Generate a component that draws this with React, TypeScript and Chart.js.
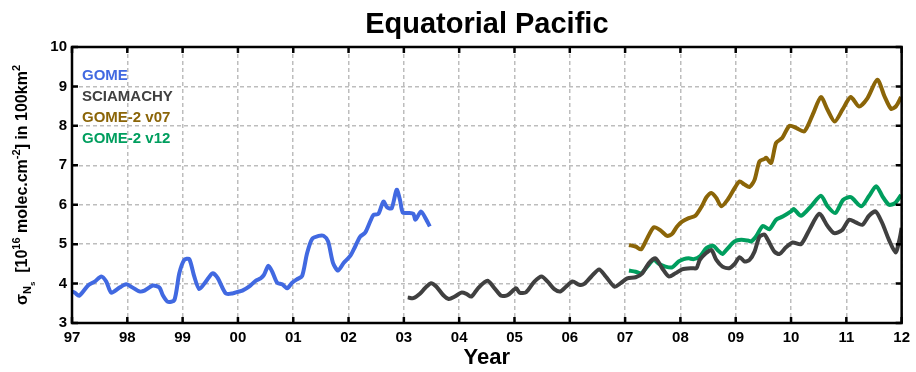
import React, { useEffect, useRef } from "react";
import { Chart, registerables } from "chart.js";

Chart.register(...registerables);

const yearTickLabels = ["97", "98", "99", "00", "01", "02", "03", "04", "05", "06", "07", "08", "09", "10", "11", "12"];
const firstYear = 1997;
const lastYear = 2012;
const yMin = 3;
const yMax = 10;

// years expressed as offset from 1997
const gomeT = [0.0, 0.05, 0.13, 0.29, 0.41, 0.53, 0.62, 0.71, 0.86, 0.98, 1.07, 1.22, 1.31, 1.46, 1.58, 1.64, 1.73, 1.85, 1.94, 2.03, 2.12, 2.21, 2.30, 2.42, 2.54, 2.63, 2.78, 2.90, 3.02, 3.08, 3.2, 3.32, 3.41, 3.47, 3.55, 3.62, 3.71, 3.8, 3.89, 3.98, 4.07, 4.16, 4.25, 4.34, 4.46, 4.55, 4.63, 4.72, 4.81, 4.91, 5.03, 5.12, 5.21, 5.3, 5.39, 5.45, 5.54, 5.63, 5.70, 5.78, 5.87, 5.93, 5.98, 6.08, 6.17, 6.21, 6.31, 6.39, 6.47];
const gomeV = [3.8, 3.77, 3.69, 3.95, 4.05, 4.18, 4.05, 3.77, 3.9, 3.98, 3.92, 3.8, 3.82, 3.95, 3.9, 3.71, 3.54, 3.58, 4.26, 4.6, 4.62, 4.18, 3.86, 4.05, 4.26, 4.15, 3.75, 3.75, 3.8, 3.82, 3.92, 4.07, 4.13, 4.22, 4.45, 4.3, 4.02, 3.98, 3.88, 4.02, 4.11, 4.19, 4.77, 5.13, 5.21, 5.21, 5.07, 4.52, 4.33, 4.52, 4.7, 4.94, 5.19, 5.29, 5.57, 5.74, 5.77, 6.08, 5.93, 5.91, 6.38, 6.12, 5.8, 5.79, 5.77, 5.62, 5.83, 5.66, 5.45];

const sciaT = [6.07, 6.17, 6.29, 6.38, 6.49, 6.59, 6.71, 6.81, 6.92, 7.04, 7.13, 7.22, 7.34, 7.51, 7.64, 7.76, 7.88, 8.03, 8.09, 8.21, 8.36, 8.49, 8.60, 8.72, 8.83, 8.93, 9.05, 9.17, 9.26, 9.39, 9.53, 9.65, 9.81, 9.92, 10.04, 10.19, 10.31, 10.43, 10.55, 10.67, 10.79, 10.91, 11.03, 11.21, 11.29, 11.35, 11.46, 11.56, 11.65, 11.76, 11.88, 11.98, 12.07, 12.16, 12.25, 12.34, 12.43, 12.52, 12.58, 12.70, 12.79, 12.91, 13.03, 13.18, 13.33, 13.51, 13.66, 13.78, 13.92, 14.05, 14.17, 14.29, 14.41, 14.53, 14.65, 14.77, 14.89, 14.96, 15.0];
const sciaV = [3.65, 3.63, 3.74, 3.88, 4.01, 3.92, 3.71, 3.61, 3.67, 3.77, 3.74, 3.67, 3.88, 4.07, 3.88, 3.69, 3.71, 3.88, 3.77, 3.78, 4.05, 4.18, 4.05, 3.86, 3.8, 3.92, 4.05, 3.97, 3.99, 4.18, 4.36, 4.18, 3.92, 4.01, 4.13, 4.16, 4.26, 4.52, 4.64, 4.39, 4.18, 4.26, 4.36, 4.39, 4.39, 4.6, 4.77, 4.85, 4.6, 4.43, 4.39, 4.5, 4.67, 4.56, 4.6, 4.81, 5.19, 5.24, 5.11, 4.81, 4.75, 4.92, 5.04, 5.0, 5.36, 5.77, 5.46, 5.28, 5.35, 5.62, 5.55, 5.49, 5.72, 5.83, 5.53, 5.11, 4.79, 5.11, 5.41];

const v07T = [10.07, 10.19, 10.29, 10.40, 10.52, 10.64, 10.76, 10.85, 10.94, 11.03, 11.15, 11.27, 11.39, 11.47, 11.56, 11.65, 11.74, 11.86, 11.98, 12.07, 12.16, 12.25, 12.34, 12.43, 12.52, 12.55, 12.64, 12.73, 12.84, 12.97, 13.09, 13.24, 13.39, 13.54, 13.66, 13.79, 13.93, 14.08, 14.23, 14.38, 14.56, 14.69, 14.81, 14.90, 14.99];
const v07V = [4.98, 4.94, 4.87, 5.15, 5.43, 5.35, 5.21, 5.26, 5.45, 5.57, 5.66, 5.72, 5.97, 6.19, 6.3, 6.17, 5.96, 6.14, 6.42, 6.59, 6.51, 6.45, 6.63, 7.1, 7.16, 7.19, 7.06, 7.57, 7.69, 8.0, 7.95, 7.86, 8.28, 8.73, 8.41, 8.11, 8.41, 8.73, 8.49, 8.7, 9.17, 8.75, 8.43, 8.5, 8.73];

const v12T = [10.07, 10.19, 10.29, 10.40, 10.52, 10.61, 10.73, 10.85, 10.97, 11.06, 11.15, 11.24, 11.36, 11.47, 11.59, 11.68, 11.76, 11.86, 11.98, 12.10, 12.22, 12.28, 12.37, 12.49, 12.61, 12.73, 12.85, 13.0, 13.05, 13.18, 13.36, 13.54, 13.66, 13.80, 13.94, 14.08, 14.27, 14.41, 14.54, 14.65, 14.77, 14.88, 14.99];
const v12V = [4.33, 4.3, 4.26, 4.43, 4.6, 4.5, 4.43, 4.41, 4.56, 4.62, 4.64, 4.62, 4.7, 4.9, 4.96, 4.84, 4.75, 4.9, 5.07, 5.11, 5.09, 5.07, 5.2, 5.46, 5.38, 5.62, 5.7, 5.83, 5.89, 5.72, 5.96, 6.23, 5.96, 5.79, 6.12, 6.19, 5.96, 6.22, 6.47, 6.22, 6.0, 6.04, 6.25];

const seriesNames = ["GOME", "SCIAMACHY", "GOME-2 v07", "GOME-2 v12"];
const seriesColors = ["#4169E1", "#404040", "#8B6508", "#009E5E"];

const titleText = "Equatorial Pacific";
const xTitle = "Year";

const FONT = '"Liberation Sans", Arial, sans-serif';

function pts(t: number[], v: number[]) {
  return t.map((tt, i) => ({ x: firstYear + tt, y: v[i] }));
}

const decorPlugin = {
  id: "decor",
  afterDraw(chart: any) {
    const { ctx, chartArea } = chart;
    const xs = chart.scales.x;
    const ys = chart.scales.y;
    ctx.save();
    // frame
    ctx.strokeStyle = "#000";
    ctx.lineWidth = 2.5;
    ctx.strokeRect(chartArea.left, chartArea.top, chartArea.right - chartArea.left, chartArea.bottom - chartArea.top);
    // inward ticks
    const tl = 6;
    ctx.beginPath();
    for (let yr = firstYear; yr <= lastYear; yr++) {
      const px = xs.getPixelForValue(yr);
      ctx.moveTo(px, chartArea.bottom);
      ctx.lineTo(px, chartArea.bottom - tl);
      ctx.moveTo(px, chartArea.top);
      ctx.lineTo(px, chartArea.top + tl);
    }
    for (let v = yMin; v <= yMax; v++) {
      const py = ys.getPixelForValue(v);
      ctx.moveTo(chartArea.left, py);
      ctx.lineTo(chartArea.left + tl, py);
      ctx.moveTo(chartArea.right, py);
      ctx.lineTo(chartArea.right - tl, py);
    }
    ctx.stroke();

    // title
    ctx.fillStyle = "#000";
    ctx.font = `bold 29px ${FONT}`;
    ctx.textAlign = "center";
    ctx.textBaseline = "alphabetic";
    ctx.fillText(titleText, (chartArea.left + chartArea.right) / 2, 33);

    // legend (text only)
    ctx.font = `bold 15px ${FONT}`;
    ctx.textAlign = "left";
    ctx.textBaseline = "middle";
    chart.data.datasets.forEach((ds: any, i: number) => {
      ctx.fillStyle = ds.borderColor;
      ctx.fillText(ds.label, chartArea.left + 10, chartArea.top + 29 + i * 21);
    });

    // y-axis title with sub/superscripts
    ctx.translate(22, (chartArea.top + chartArea.bottom) / 2);
    ctx.rotate(-Math.PI / 2);
    ctx.fillStyle = "#000";
    ctx.textBaseline = "alphabetic";
    const big = `bold 16px ${FONT}`;
    const small = `bold 11px ${FONT}`;
    const tiny = `bold 8px ${FONT}`;
    const parts: [string, string, number][] = [
      ["σ", big, 0],
      ["N", small, 4],
      ["s", tiny, 8],
      ["  [10", big, 0],
      ["16", small, -7],
      [" molec.cm", big, 0],
      ["-2", small, -7],
      ["] in 100km", big, 0],
      ["2", small, -7],
    ];
    let total = 0;
    parts.forEach(([s, f]) => {
      ctx.font = f;
      total += ctx.measureText(s).width;
    });
    let x = -total / 2;
    const baseY = 5;
    parts.forEach(([s, f, dy]) => {
      ctx.font = f;
      ctx.textAlign = "left";
      ctx.fillText(s, x, baseY + dy);
      x += ctx.measureText(s).width;
    });
    ctx.restore();
  },
};

export default function App() {
  const ref = useRef<HTMLCanvasElement | null>(null);
  useEffect(() => {
    if (!ref.current) return;
    const series = [pts(gomeT, gomeV), pts(sciaT, sciaV), pts(v07T, v07V), pts(v12T, v12V)];
    const chart = new Chart(ref.current, {
      type: "line",
      data: {
        datasets: series.map((d, i) => ({
          label: seriesNames[i],
          data: d,
          borderColor: seriesColors[i],
          backgroundColor: seriesColors[i],
          borderWidth: 4,
          pointRadius: 0,
          tension: 0.25,
          fill: false,
        })),
      },
      options: {
        responsive: false,
        animation: false,
        events: [],
        layout: { padding: { top: 47, right: 10, left: 0, bottom: 0 } },
        plugins: { legend: { display: false }, tooltip: { enabled: false }, title: { display: false } },
        scales: {
          x: {
            type: "linear",
            min: firstYear,
            max: lastYear,
            afterFit: (s: any) => {
              s.height = 49;
            },
            ticks: {
              stepSize: 1,
              autoSkip: false,
              maxRotation: 0,
              padding: 6,
              color: "#000",
              font: { family: FONT, size: 15, weight: "bold" },
              callback: (v: any) => yearTickLabels[Math.round(Number(v) - firstYear)] ?? "",
            },
            grid: { color: "#bdbdbd", lineWidth: 1.5, drawTicks: false },
            border: { display: false, dash: [4, 3] },
            title: {
              display: true,
              text: xTitle,
              color: "#000",
              font: { family: FONT, size: 22, weight: "bold" },
              padding: { top: 0, bottom: 1 },
            },
          },
          y: {
            type: "linear",
            min: yMin,
            max: yMax,
            afterFit: (s: any) => {
              s.width = 72;
            },
            ticks: {
              stepSize: 1,
              padding: 5,
              color: "#000",
              font: { family: FONT, size: 15, weight: "bold" },
            },
            grid: { color: "#bdbdbd", lineWidth: 1.5, drawTicks: false },
            border: { display: false, dash: [4, 3] },
          },
        },
      },
      plugins: [decorPlugin],
    } as any);
    return () => chart.destroy();
  }, []);
  return (
    <div style={{ position: "fixed", left: 0, top: 0, width: 916, height: 372, background: "#fff" }}>
      <canvas ref={ref} width={916} height={372} style={{ width: 916, height: 372 }} />
    </div>
  );
}
